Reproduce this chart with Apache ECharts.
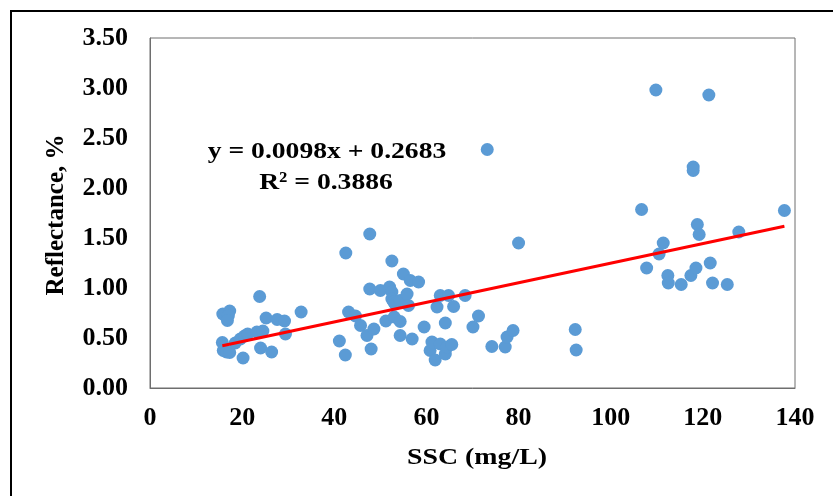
<!DOCTYPE html>
<html><head><meta charset="utf-8">
<script src="https://cdn.jsdelivr.net/npm/echarts@6/dist/echarts.min.js"></script>
<style>html,body{margin:0;padding:0;background:#fff}#c{width:833px;height:496px}</style>
</head><body><div id="c"></div>
<script>
// SSC (mg/L) and reflectance (%) pairs
const ssc = [
  15.8,17.3,17.0,16.8,15.7,15.9,16.6,17.3,18.5,19.6,20.2,20.5,21.2,23.2,24.0,23.8,24.5,25.2,26.4,27.6,29.2,29.4,32.8,
  41.1,42.5,42.4,43.1,44.6,45.7,47.1,47.7,47.7,48.0,48.6,50.0,51.2,52.0,52.5,52.5,52.5,52.9,53.0,53.2,54.3,54.3,54.3,
  55.0,55.8,56.1,56.5,56.9,58.3,59.5,60.8,61.2,61.9,62.3,63.0,63.0,64.1,64.1,64.5,64.8,65.5,65.9,68.4,70.1,71.3,73.2,
  74.2,77.1,77.5,78.8,80.0,
  92.3,92.5,106.7,107.8,109.8,110.5,111.4,112.4,112.5,115.3,117.4,117.9,117.9,118.5,118.8,119.2,121.3,121.6,122.1,
  125.3,127.8,137.7
];
const reflectance = [
  0.74,0.77,0.72,0.675,0.455,0.375,0.36,0.355,0.45,0.49,0.30,0.52,0.54,0.56,0.40,0.915,0.57,0.70,0.36,0.685,0.67,0.54,0.76,
  0.47,1.35,0.33,0.76,0.72,0.625,0.525,1.54,0.99,0.39,0.59,0.975,0.67,1.01,1.27,0.96,0.89,0.86,0.71,0.84,0.875,0.665,0.525,
  1.14,0.94,0.825,1.075,0.49,1.06,0.61,0.375,0.46,0.28,0.81,0.925,0.44,0.65,0.34,0.41,0.925,0.435,0.815,0.925,0.61,0.72,2.385,
  0.415,0.41,0.51,0.575,1.45,
  0.585,0.38,1.785,1.20,2.98,1.34,1.45,1.125,1.05,1.035,1.125,2.21,2.175,1.20,1.635,1.535,2.93,1.25,1.05,
  1.035,1.56,1.775
];
// Linear trend line from the reference equation
const slope = 0.0098;
const intercept = 0.2683;
const trendRange = [15.7, 137.7];
const equationText = 'y = 0.0098x + 0.2683';
const r2Text = 'R² = 0.3886';
const xTitle = 'SSC (mg/L)';
const yTitle = 'Reflectance, %';

const FONT = '"Liberation Serif","Times New Roman",serif';
const points = ssc.map((x, i) => [x, reflectance[i]]);
const trend = trendRange.map(x => [x, slope * x + intercept]);

const chart = echarts.init(document.getElementById('c'), null, {renderer: 'canvas'});
chart.setOption({
  animation: false,
  backgroundColor: '#fff',
  grid: {left: 150, right: 38, top: 38, bottom: 108, show: true, borderColor: '#6e6e6e', borderWidth: 1, containLabel: false, outerBoundsMode: 'none'},
  xAxis: {
    type: 'value', min: 0, max: 140, interval: 20,
    axisLine: {show: true, onZero: false, lineStyle: {color: '#6e6e6e', width: 1}},
    axisTick: {show: false}, splitLine: {show: false},
    axisLabel: {color: '#000', fontFamily: FONT, fontWeight: 'bold', fontSize: 26, margin: 17, showMinLabel: true, showMaxLabel: true, hideOverlap: false}
  },
  yAxis: {
    type: 'value', min: 0, max: 3.5, interval: 0.5,
    axisLine: {show: true, lineStyle: {color: '#6e6e6e', width: 1}},
    axisTick: {show: false}, splitLine: {show: false},
    axisLabel: {color: '#000', fontFamily: FONT, fontWeight: 'bold', fontSize: 26, margin: 22, formatter: v => v.toFixed(2), showMinLabel: true, showMaxLabel: true, hideOverlap: false}
  },
  series: [
    {type: 'scatter', data: points, symbolSize: 13, itemStyle: {color: '#5B9BD5', opacity: 1}, z: 2},
    {type: 'line', data: trend, symbol: 'none', lineStyle: {color: '#FF0000', width: 3}, z: 3}
  ],
  graphic: [
    {type: 'rect', shape: {x: 11, y: 11, width: 900, height: 600}, style: {fill: 'none', stroke: '#000', lineWidth: 2}, silent: true},
    {type: 'text', x: 327, y: 152, scaleX: 1.15, style: {text: equationText, font: 'bold 24px ' + FONT, fill: '#000', textAlign: 'center', textVerticalAlign: 'middle'}},
    {type: 'text', x: 326, y: 183, scaleX: 1.15, style: {text: r2Text, font: 'bold 24px ' + FONT, fill: '#000', textAlign: 'center', textVerticalAlign: 'middle'}},
    {type: 'text', x: 477, y: 458, scaleX: 1.16, style: {text: xTitle, font: 'bold 24px ' + FONT, fill: '#000', textAlign: 'center', textVerticalAlign: 'middle'}},
    {type: 'text', x: 57, y: 215, rotation: Math.PI / 2, style: {text: yTitle, font: 'bold 25px ' + FONT, fill: '#000', textAlign: 'center', textVerticalAlign: 'middle'}}
  ]
});
</script></body></html>
